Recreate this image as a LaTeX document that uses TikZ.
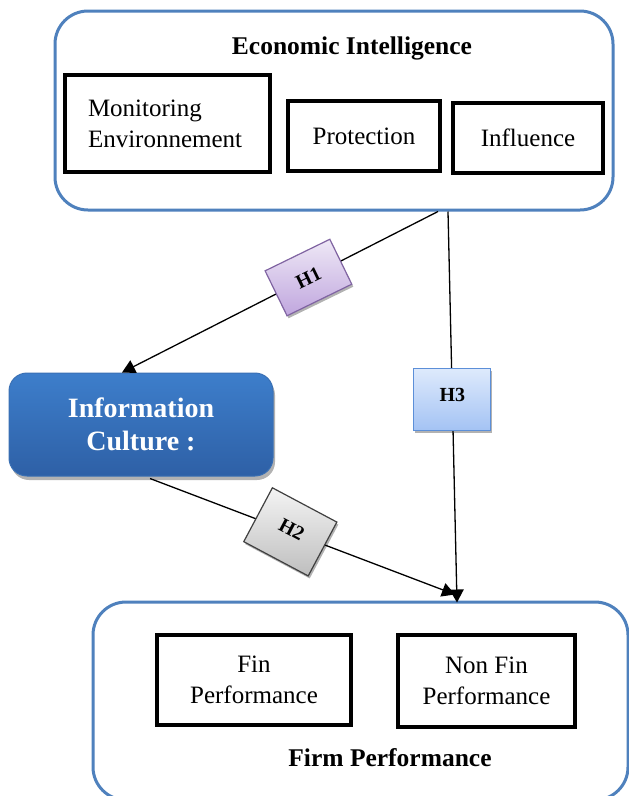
\documentclass[tikz,border=0pt]{standalone}
\usepackage{fontspec}
\setmainfont{Liberation Serif}
\usetikzlibrary{arrows.meta,shadows}
\definecolor{eiblue}{RGB}{79,129,189}
\definecolor{ictop}{RGB}{61,126,203}
\definecolor{icbot}{RGB}{46,96,166}
\definecolor{icdraw}{RGB}{58,112,180}
\definecolor{hatop}{RGB}{238,232,246}
\definecolor{habot}{RGB}{192,166,222}
\definecolor{hadraw}{RGB}{128,100,162}
\definecolor{hctop}{RGB}{222,234,252}
\definecolor{hcbot}{RGB}{164,195,244}
\definecolor{hcdraw}{RGB}{92,143,216}
\definecolor{hbtop}{RGB}{244,244,244}
\definecolor{hbbot}{RGB}{190,190,190}
\definecolor{hbdraw}{RGB}{64,64,64}
\tikzset{
  bigbox/.style={draw=eiblue, line width=3pt, rounded corners=33pt, inner sep=0pt},
  subbox/.style={draw=black, line width=4pt, inner sep=0pt, align=center,
    font=\fontsize{25}{31}\selectfont},
  titletext/.style={font=\bfseries\fontsize{25.5}{30}\selectfont, inner sep=0pt},
  icbox/.style={draw=icdraw, line width=1pt, rounded corners=18pt, top color=ictop, bottom color=icbot,
    text=white, align=center, font=\bfseries\fontsize{28}{33}\selectfont,
    minimum width=264pt, minimum height=103pt, inner sep=0pt,
    drop shadow={shadow xshift=2pt, shadow yshift=-4pt, opacity=0.3, fill=black}},
  hlab/.style={line width=1.2pt, inner sep=0pt, font=\bfseries\fontsize{20}{22}\selectfont,
    drop shadow={shadow xshift=1.5pt, shadow yshift=-2.5pt, opacity=0.3, fill=black}},
  conn/.style={draw=black, line width=1.3pt},
  arr/.style={-{Triangle[length=13pt,width=14pt]}}
}
\begin{document}
\begin{tikzpicture}[x=1pt,y=-1pt]
\useasboundingbox (0,0) rectangle (629,796);
\fill[white] (0,0) rectangle (629,796);

% Economic Intelligence
\node[bigbox, minimum width=558pt, minimum height=199pt] (EI) at (334,110.5) {};
\node[titletext] (EIt) at (352,48) {Economic Intelligence};
\node[subbox, minimum width=205pt, minimum height=97pt, inner xsep=23pt, text width=159pt, align=left] (MON) at (167.5,123.5) {Monitoring\\Environnement};
\node[subbox, minimum width=152pt, minimum height=70pt] (PRO) at (364,136) {Protection};
\node[subbox, minimum width=150pt, minimum height=70pt] (INF) at (528,138) {Influence};

% Firm Performance
\node[bigbox, minimum width=535pt, minimum height=198pt] (FP) at (360.5,701) {};
\node[subbox, minimum width=194pt, minimum height=90pt] (FIN) at (254,680) {Fin\\Performance};
\node[subbox, minimum width=177pt, minimum height=92pt] (NFIN) at (486.5,681) {Non Fin\\Performance};
\node[titletext] (FPt) at (390,758) {Firm Performance};

% Information Culture
\node[icbox] (IC) at (141,424.5) {Information\\Culture :};

% Connectors
\draw[conn, arr] ([xshift=104pt]EI.south) -- node[pos=0.41, hlab, rotate=26, draw=hadraw, top color=hatop, bottom color=habot, minimum width=72pt, minimum height=50pt] (H1) {H1} ([xshift=-19pt]IC.north);
\draw[conn, arr] ([xshift=9pt,yshift=-2pt]IC.south) -- node[pos=0.46, hlab, rotate=-28, draw=hbdraw, top color=hbtop, bottom color=hbbot, minimum width=73pt, minimum height=61pt] (H2) {\raisebox{6pt}{H2}} ([xshift=94.5pt,yshift=6pt]FP.north);
\draw[conn, arr] ([xshift=114pt]EI.south) -- node[pos=0.48, hlab, draw=hcdraw, top color=hctop, bottom color=hcbot, minimum width=77pt, minimum height=62pt] (H3) {\raisebox{8pt}{H3}} ([xshift=96.5pt,yshift=-2pt]FP.north);
\end{tikzpicture}
\end{document}
